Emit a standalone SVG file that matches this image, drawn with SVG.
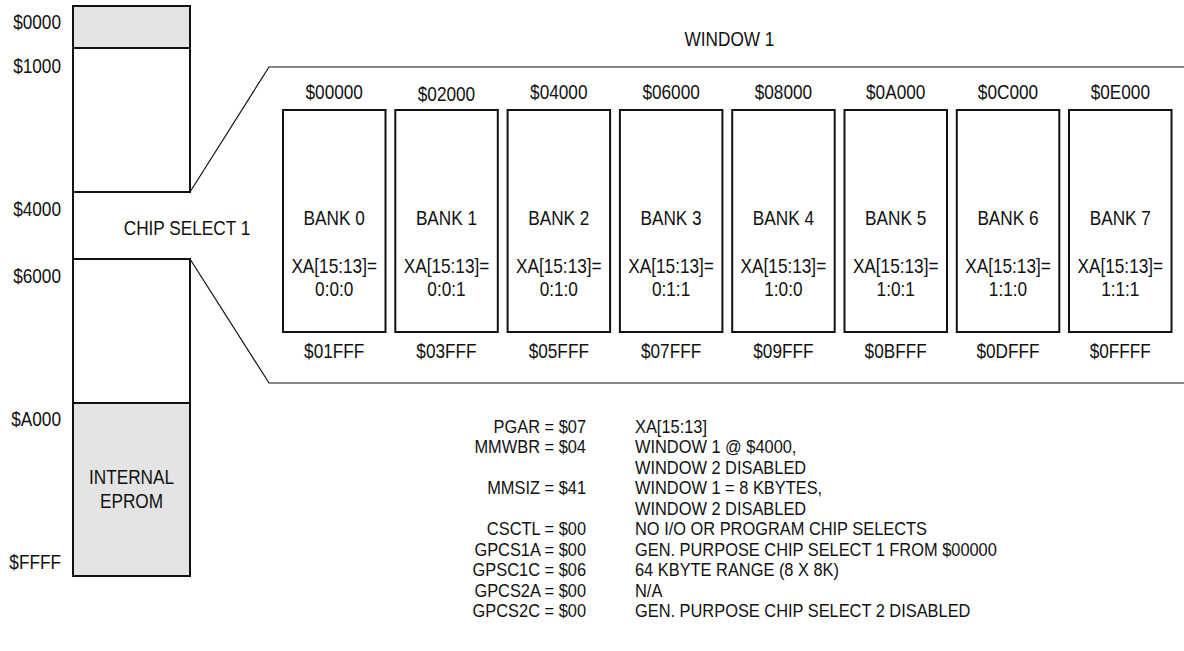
<svg xmlns="http://www.w3.org/2000/svg" width="1184" height="651" viewBox="0 0 1184 651">
<style>
text{font-family:"Liberation Sans",Arial,sans-serif;font-size:21px;fill:#111}
.r{text-anchor:end}
.c{text-anchor:middle}
.s{font-size:19px}
.box{fill:#fff;stroke:#111;stroke-width:2}
.gray{fill:#e4e4e4;stroke:#111;stroke-width:2}
.ln{fill:none;stroke:#111;stroke-width:1.2}
</style>
<rect width="1184" height="651" fill="#fff"/>
<g id="memory-map">
<rect class="gray" x="73" y="6" width="117" height="42"/>
<rect class="box" x="73" y="48" width="117" height="144"/>
<line x1="73" y1="192" x2="73" y2="259" stroke="#111" stroke-width="2"/>
<rect class="box" x="73" y="259" width="117" height="144"/>
<rect class="gray" x="73" y="403" width="117" height="173"/>
<g transform="scale(0.82,1)">
<text class="c" x="160.37" y="484">INTERNAL</text>
<text class="c" x="160.37" y="508">EPROM</text>
<text class="r" x="74.39" y="29">$0000</text>
<text class="r" x="74.39" y="73">$1000</text>
<text class="r" x="74.39" y="216">$4000</text>
<text class="r" x="74.39" y="283">$6000</text>
<text class="r" x="74.39" y="426">$A000</text>
<text class="r" x="74.39" y="569">$FFFF</text>
<text class="c" x="228.05" y="235">CHIP SELECT 1</text>
</g>
</g>
<g id="connectors">
<polyline class="ln" points="190,192 269,67 1184,67"/>
<polyline class="ln" points="190,259 269,383 1184,383" stroke="#333"/>
</g>
<g id="window-label" transform="scale(0.82,1)"><text class="c" x="889.63" y="46">WINDOW 1</text></g>
<g id="bank0"><rect class="box" x="283" y="110" width="102.5" height="222"/>
<g transform="scale(0.82,1)"><text class="c" x="407.56" y="99">$00000</text><text class="c" x="407.56" y="225.5">BANK 0</text><text class="c" x="407.56" y="273">XA[15:13]=</text><text class="c" x="407.56" y="296.5">0:0:0</text><text class="c" x="407.56" y="358">$01FFF</text></g></g>
<g id="bank1"><rect class="box" x="395.3" y="110" width="102.5" height="222"/>
<g transform="scale(0.82,1)"><text class="c" x="544.51" y="101.5">$02000</text><text class="c" x="544.51" y="225.5">BANK 1</text><text class="c" x="544.51" y="273">XA[15:13]=</text><text class="c" x="544.51" y="296.5">0:0:1</text><text class="c" x="544.51" y="358">$03FFF</text></g></g>
<g id="bank2"><rect class="box" x="507.6" y="110" width="102.5" height="222"/>
<g transform="scale(0.82,1)"><text class="c" x="681.46" y="99">$04000</text><text class="c" x="681.46" y="225.5">BANK 2</text><text class="c" x="681.46" y="273">XA[15:13]=</text><text class="c" x="681.46" y="296.5">0:1:0</text><text class="c" x="681.46" y="358">$05FFF</text></g></g>
<g id="bank3"><rect class="box" x="619.9" y="110" width="102.5" height="222"/>
<g transform="scale(0.82,1)"><text class="c" x="818.41" y="99">$06000</text><text class="c" x="818.41" y="225.5">BANK 3</text><text class="c" x="818.41" y="273">XA[15:13]=</text><text class="c" x="818.41" y="296.5">0:1:1</text><text class="c" x="818.41" y="358">$07FFF</text></g></g>
<g id="bank4"><rect class="box" x="732.2" y="110" width="102.5" height="222"/>
<g transform="scale(0.82,1)"><text class="c" x="955.37" y="99">$08000</text><text class="c" x="955.37" y="225.5">BANK 4</text><text class="c" x="955.37" y="273">XA[15:13]=</text><text class="c" x="955.37" y="296.5">1:0:0</text><text class="c" x="955.37" y="358">$09FFF</text></g></g>
<g id="bank5"><rect class="box" x="844.5" y="110" width="102.5" height="222"/>
<g transform="scale(0.82,1)"><text class="c" x="1092.32" y="99">$0A000</text><text class="c" x="1092.32" y="225.5">BANK 5</text><text class="c" x="1092.32" y="273">XA[15:13]=</text><text class="c" x="1092.32" y="296.5">1:0:1</text><text class="c" x="1092.32" y="358">$0BFFF</text></g></g>
<g id="bank6"><rect class="box" x="956.8" y="110" width="102.5" height="222"/>
<g transform="scale(0.82,1)"><text class="c" x="1229.27" y="99">$0C000</text><text class="c" x="1229.27" y="225.5">BANK 6</text><text class="c" x="1229.27" y="273">XA[15:13]=</text><text class="c" x="1229.27" y="296.5">1:1:0</text><text class="c" x="1229.27" y="358">$0DFFF</text></g></g>
<g id="bank7"><rect class="box" x="1069" y="110" width="102.5" height="222"/>
<g transform="scale(0.82,1)"><text class="c" x="1366.22" y="99">$0E000</text><text class="c" x="1366.22" y="225.5">BANK 7</text><text class="c" x="1366.22" y="273">XA[15:13]=</text><text class="c" x="1366.22" y="296.5">1:1:1</text><text class="c" x="1366.22" y="358">$0FFFF</text></g></g>
<g id="register-notes" transform="scale(0.863,1)">
<text class="r s" x="679.03" y="433">PGAR = $07</text><text class="s" x="735.81" y="433">XA[15:13]</text>
<text class="r s" x="679.03" y="453.5">MMWBR = $04</text><text class="s" x="735.81" y="453.5">WINDOW 1 @ $4000,</text>
<text class="s" x="735.81" y="474">WINDOW 2 DISABLED</text>
<text class="r s" x="679.03" y="494.5">MMSIZ = $41</text><text class="s" x="735.81" y="494.5">WINDOW 1 = 8 KBYTES,</text>
<text class="s" x="735.81" y="515">WINDOW 2 DISABLED</text>
<text class="r s" x="679.03" y="535.5">CSCTL = $00</text><text class="s" x="735.81" y="535.5">NO I/O OR PROGRAM CHIP SELECTS</text>
<text class="r s" x="679.03" y="556">GPCS1A = $00</text><text class="s" x="735.81" y="556">GEN. PURPOSE CHIP SELECT 1 FROM $00000</text>
<text class="r s" x="679.03" y="576.5">GPSC1C = $06</text><text class="s" x="735.81" y="576.5">64 KBYTE RANGE (8 X 8K)</text>
<text class="r s" x="679.03" y="597">GPCS2A = $00</text><text class="s" x="735.81" y="597">N/A</text>
<text class="r s" x="679.03" y="617.5">GPCS2C = $00</text><text class="s" x="735.81" y="617.5">GEN. PURPOSE CHIP SELECT 2 DISABLED</text>
</g>
</svg>
